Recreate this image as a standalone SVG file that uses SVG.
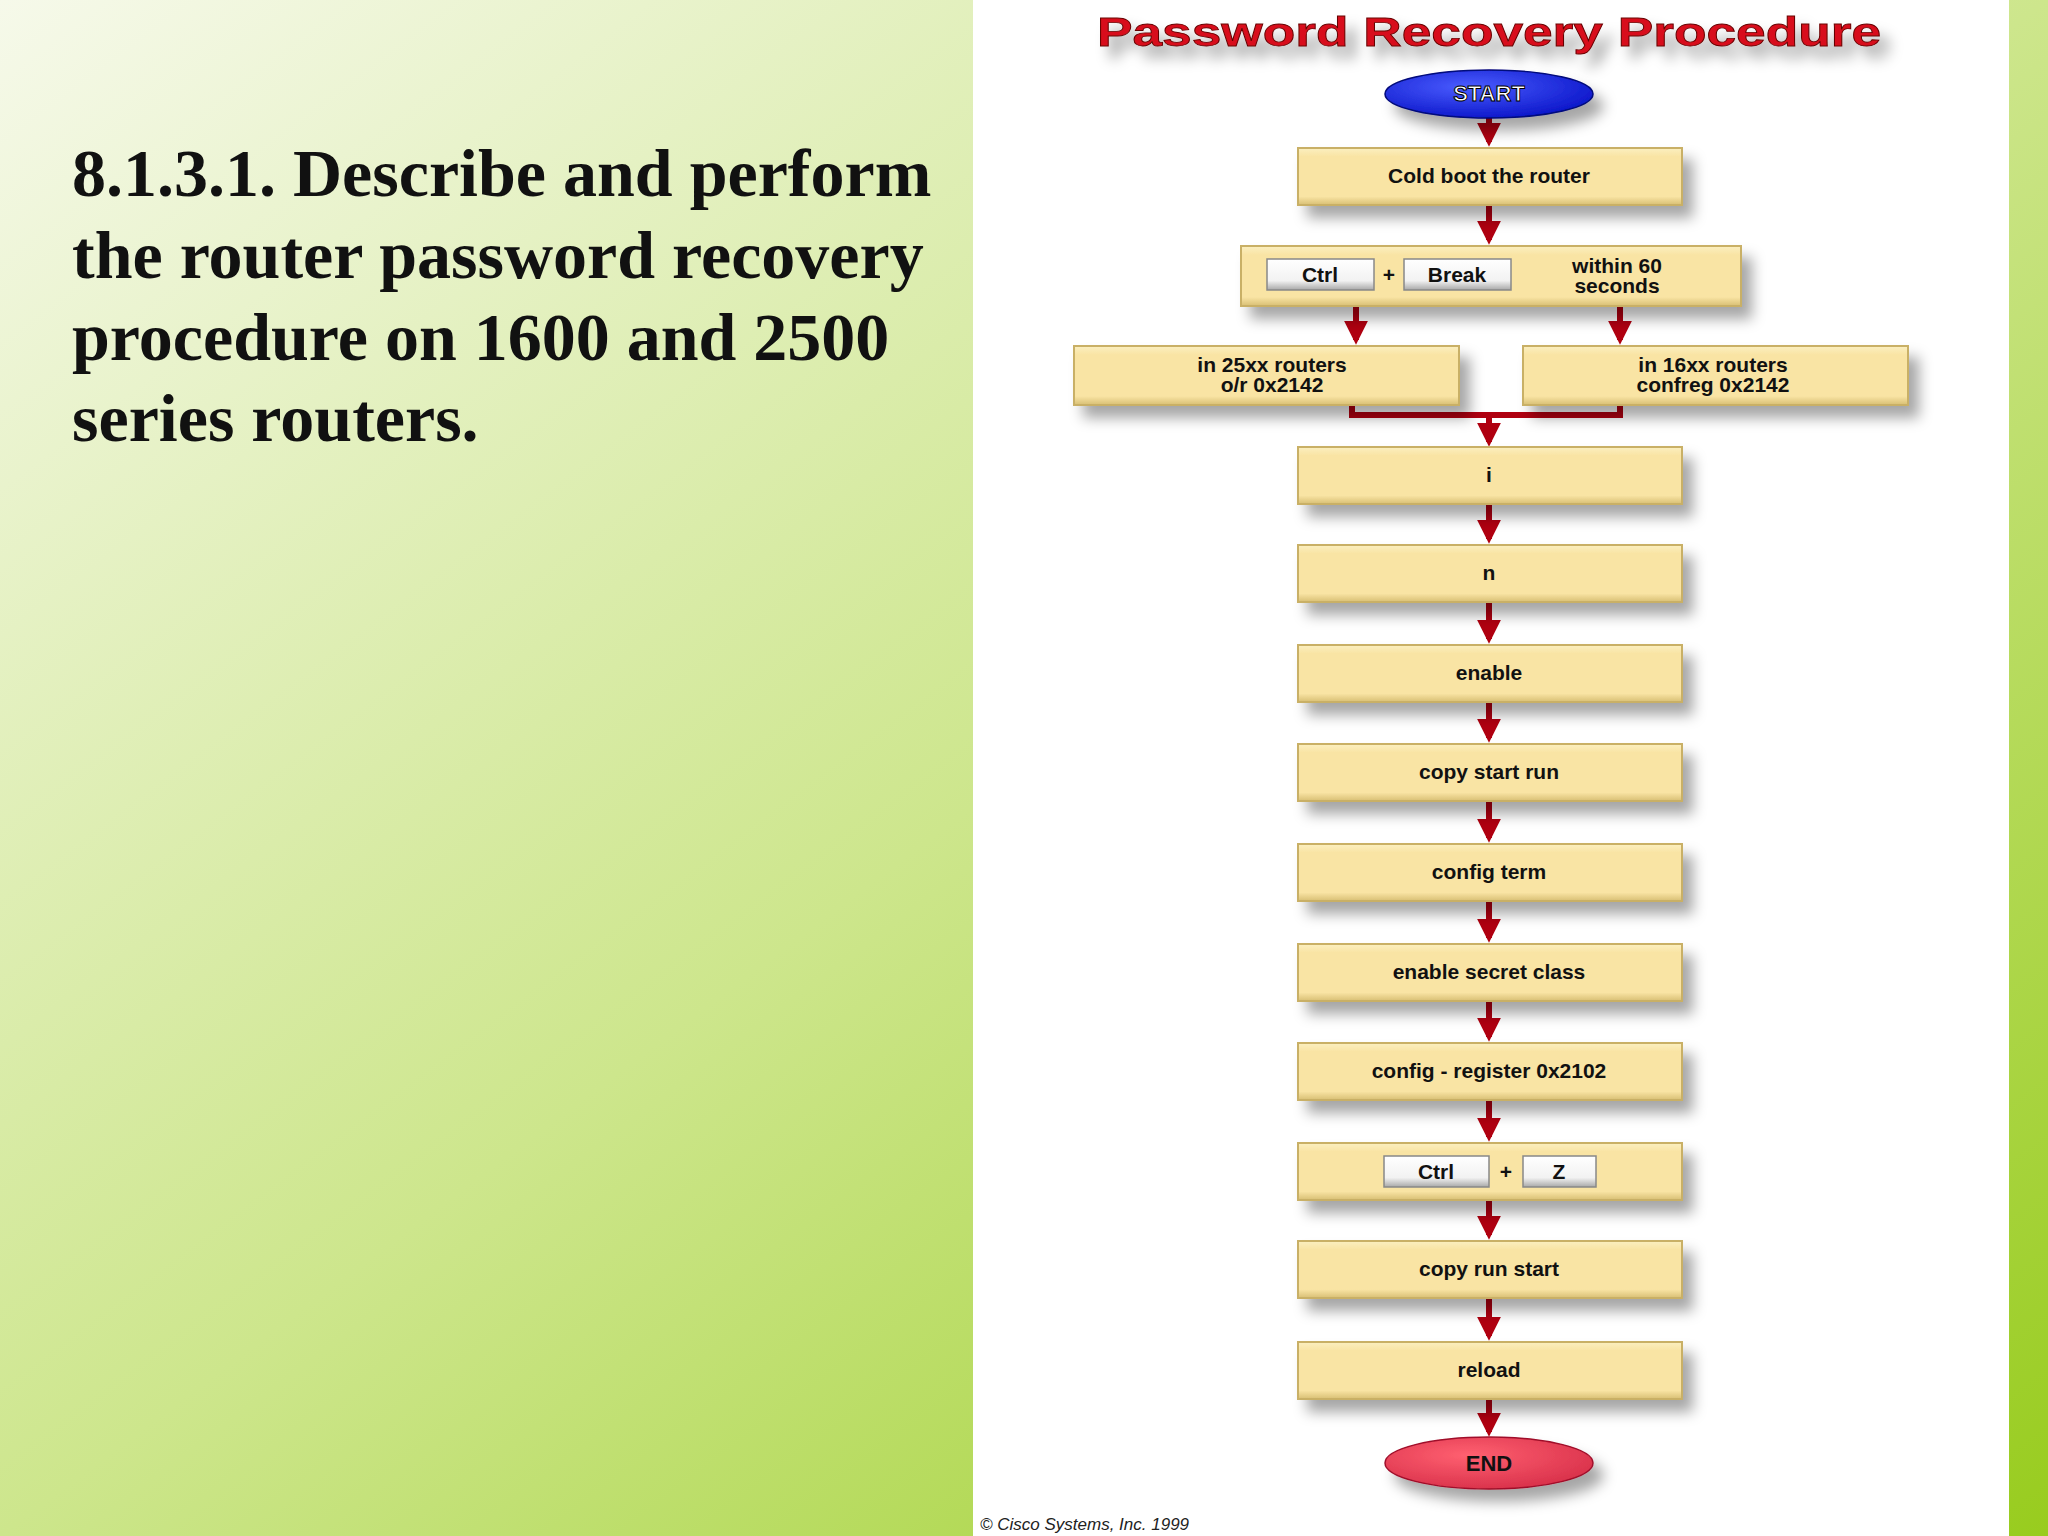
<svg xmlns="http://www.w3.org/2000/svg" width="2048" height="1536" viewBox="0 0 2048 1536">
<defs>
<linearGradient id="bg" x1="0" y1="0" x2="1" y2="1"><stop offset="0" stop-color="#f6f9ea"/><stop offset="0.5" stop-color="#cde68c"/><stop offset="1" stop-color="#98cc1e"/></linearGradient>
<linearGradient id="box" x1="0" y1="0" x2="0" y2="1"><stop offset="0" stop-color="#fbefc0"/><stop offset="0.15" stop-color="#f9e4a4"/><stop offset="0.85" stop-color="#f9e4a4"/><stop offset="1" stop-color="#d8bf74"/></linearGradient>
<linearGradient id="key" x1="0" y1="0" x2="0" y2="1"><stop offset="0" stop-color="#ffffff"/><stop offset="0.7" stop-color="#f2f2f2"/><stop offset="1" stop-color="#a8a8a8"/></linearGradient>
<radialGradient id="blue" cx="0.4" cy="0.35" r="0.7"><stop offset="0" stop-color="#4a5cff"/><stop offset="1" stop-color="#0a14c8"/></radialGradient>
<radialGradient id="red" cx="0.4" cy="0.35" r="0.7"><stop offset="0" stop-color="#ff6070"/><stop offset="1" stop-color="#d8304a"/></radialGradient>
<filter id="sh" x="-20%" y="-30%" width="150%" height="190%"><feDropShadow dx="10" dy="12" stdDeviation="7" flood-color="#000" flood-opacity="0.35"/></filter>
<marker id="ah" viewBox="0 0 10 10" refX="8" refY="5" markerWidth="4" markerHeight="4" orient="auto" markerUnits="strokeWidth"><path d="M0,0 L10,5 L0,10 z" fill="#b00010"/></marker>
</defs>
<style>
.b{fill:url(#box);stroke:#c9b066;stroke-width:2;filter:url(#sh)}
.t{font-family:"Liberation Sans",Arial,sans-serif;font-weight:bold;font-size:21px;fill:#111;text-anchor:middle}
.k{fill:url(#key);stroke:#888;stroke-width:1.5}
.c line,.c path{stroke:#b00010;stroke-width:6;fill:none}
</style>
<rect width="2048" height="1536" fill="url(#bg)"/>
<rect x="973" y="0" width="1036" height="1536" fill="#ffffff"/>
<g font-family="'Liberation Serif','Times New Roman',serif" font-weight="bold" font-size="68" fill="#111">
<text x="72" y="196">8.1.3.1. Describe and perform</text>
<text x="72" y="278">the router password recovery</text>
<text x="72" y="360">procedure on 1600 and 2500</text>
<text x="72" y="441">series routers.</text>
</g>
<text x="1097" y="46" textLength="784" lengthAdjust="spacingAndGlyphs" font-family="'Liberation Sans',Arial,sans-serif" font-weight="bold" font-size="40" fill="#d8101c" stroke="#600" stroke-width="0.8" style="filter:url(#sh)">Password Recovery Procedure</text>
<g class="c">
<line x1="1489" y1="118" x2="1489" y2="142" marker-end="url(#ah)"/>
<line x1="1489" y1="205" x2="1489" y2="240" marker-end="url(#ah)"/>
<line x1="1356" y1="306" x2="1356" y2="340" marker-end="url(#ah)"/>
<line x1="1620" y1="306" x2="1620" y2="340" marker-end="url(#ah)"/>
<path d="M1352,405 V415 H1620 V405"/>
<line x1="1489" y1="415" x2="1489" y2="442" marker-end="url(#ah)"/>
<line x1="1489" y1="504" x2="1489" y2="539" marker-end="url(#ah)"/>
<line x1="1489" y1="602" x2="1489" y2="639" marker-end="url(#ah)"/>
<line x1="1489" y1="702" x2="1489" y2="738" marker-end="url(#ah)"/>
<line x1="1489" y1="801" x2="1489" y2="838" marker-end="url(#ah)"/>
<line x1="1489" y1="901" x2="1489" y2="938" marker-end="url(#ah)"/>
<line x1="1489" y1="1001" x2="1489" y2="1037" marker-end="url(#ah)"/>
<line x1="1489" y1="1100" x2="1489" y2="1137" marker-end="url(#ah)"/>
<line x1="1489" y1="1200" x2="1489" y2="1235" marker-end="url(#ah)"/>
<line x1="1489" y1="1298" x2="1489" y2="1336" marker-end="url(#ah)"/>
<line x1="1489" y1="1399" x2="1489" y2="1432" marker-end="url(#ah)"/>
</g>
<g id="start"><ellipse cx="1489" cy="94" rx="104" ry="24" fill="url(#blue)" stroke="#00087a" stroke-width="1.5" filter="url(#sh)"/><text class="t" x="1489" y="101" style="fill:#fff;stroke:#000;stroke-width:1;font-size:22px">START</text></g>
<g id="cold"><rect class="b" x="1298" y="148" width="384" height="57"/><text class="t" x="1489" y="183">Cold boot the router</text></g>
<g id="ctrlbreak"><rect class="b" x="1241" y="246" width="500" height="60"/>
<rect class="k" x="1267" y="259" width="107" height="31"/><text class="t" x="1320" y="282">Ctrl</text>
<text class="t" x="1389" y="282">+</text>
<rect class="k" x="1404" y="259" width="107" height="31"/><text class="t" x="1457" y="282">Break</text>
<text class="t" x="1617" y="273">within 60</text><text class="t" x="1617" y="293">seconds</text></g>
<g id="r25"><rect class="b" x="1074" y="346" width="385" height="59"/><text class="t" x="1272" y="372">in 25xx routers</text><text class="t" x="1272" y="392">o/r 0x2142</text></g>
<g id="r16"><rect class="b" x="1523" y="346" width="385" height="59"/><text class="t" x="1713" y="372">in 16xx routers</text><text class="t" x="1713" y="392">confreg 0x2142</text></g>
<g id="i"><rect class="b" x="1298" y="447" width="384" height="57"/><text class="t" x="1489" y="482">i</text></g>
<g id="n"><rect class="b" x="1298" y="545" width="384" height="57"/><text class="t" x="1489" y="580">n</text></g>
<g id="enable"><rect class="b" x="1298" y="645" width="384" height="57"/><text class="t" x="1489" y="680">enable</text></g>
<g id="csr"><rect class="b" x="1298" y="744" width="384" height="57"/><text class="t" x="1489" y="779">copy start run</text></g>
<g id="ct"><rect class="b" x="1298" y="844" width="384" height="57"/><text class="t" x="1489" y="879">config term</text></g>
<g id="esc"><rect class="b" x="1298" y="944" width="384" height="57"/><text class="t" x="1489" y="979">enable secret class</text></g>
<g id="cr"><rect class="b" x="1298" y="1043" width="384" height="57"/><text class="t" x="1489" y="1078">config - register 0x2102</text></g>
<g id="ctrlz"><rect class="b" x="1298" y="1143" width="384" height="57"/>
<rect class="k" x="1384" y="1156" width="105" height="31"/><text class="t" x="1436" y="1179">Ctrl</text>
<text class="t" x="1506" y="1179">+</text>
<rect class="k" x="1523" y="1156" width="73" height="31"/><text class="t" x="1559" y="1179">Z</text></g>
<g id="crs"><rect class="b" x="1298" y="1241" width="384" height="57"/><text class="t" x="1489" y="1276">copy run start</text></g>
<g id="reload"><rect class="b" x="1298" y="1342" width="384" height="57"/><text class="t" x="1489" y="1377">reload</text></g>
<g id="end"><ellipse cx="1489" cy="1463" rx="104" ry="26" fill="url(#red)" stroke="#a0102a" stroke-width="1.5" filter="url(#sh)"/><text class="t" x="1489" y="1471" style="font-size:22px">END</text></g>
<text x="980" y="1530" font-family="'Liberation Sans',Arial,sans-serif" font-style="italic" font-size="17" fill="#222">© Cisco Systems, Inc. 1999</text>
</svg>
